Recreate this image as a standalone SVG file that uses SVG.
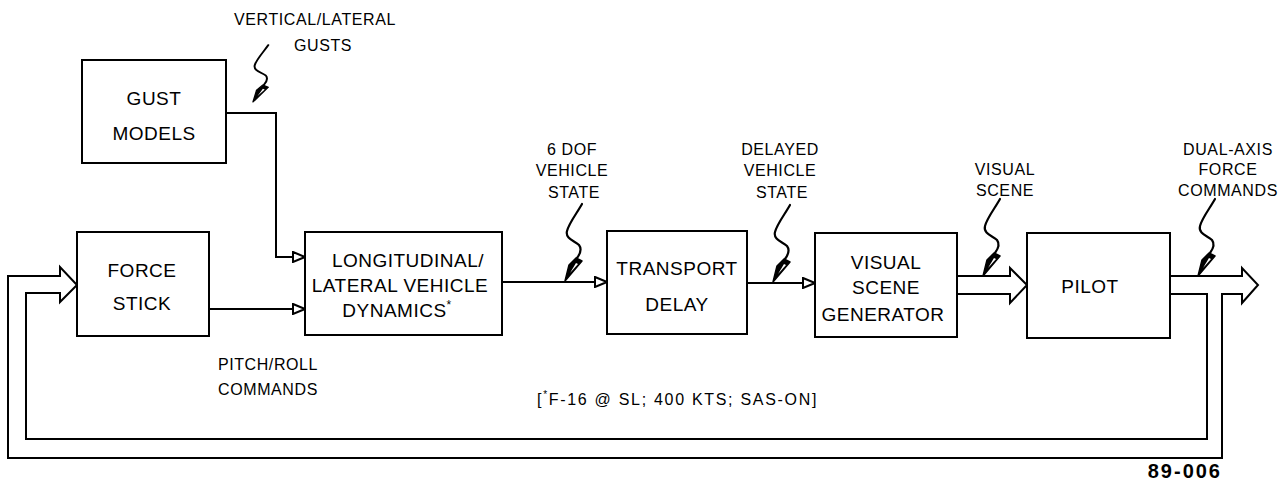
<svg xmlns="http://www.w3.org/2000/svg" width="1286" height="489" viewBox="0 0 1286 489">
<style>
.box{fill:#fff;stroke:#000;stroke-width:2}
.ln{fill:none;stroke:#000;stroke-width:2}
.t{font-family:"Liberation Sans",Arial,sans-serif;font-size:19px;fill:#000;text-anchor:middle;letter-spacing:0.5px}
.l{font-family:"Liberation Sans",Arial,sans-serif;font-size:16px;fill:#000;text-anchor:middle;letter-spacing:0.6px}
.ls{font-family:"Liberation Sans",Arial,sans-serif;font-size:16px;fill:#000;text-anchor:start;letter-spacing:1.7px}
.sq{fill:none;stroke:#000;stroke-width:2.2;stroke-linecap:round}
.dart{fill:#000;stroke:#000;stroke-width:1.5;stroke-linejoin:round}
</style>
<defs>
<marker id="oa" markerUnits="userSpaceOnUse" markerWidth="14" markerHeight="12" refX="13" refY="6" orient="auto">
<path d="M1,1 L13,6 L1,11 Z" fill="#fff" stroke="#000" stroke-width="2"/>
</marker>
<g id="squig">
<path class="sq" d="M17,-77 C12,-68 4,-58 2,-50 C0,-42 10,-40 14,-36 C17,-32 15,-27 12,-23"/>
<path class="dart" d="M0,0 L4,-16 L11,-23 L17,-20 Z"/>
<path d="M5,-8 L11,-18 L13,-17 Z" fill="#fff"/>
</g>
</defs>
<rect width="1286" height="489" fill="#fff"/>

<g id="connectors">
<path class="ln" d="M226,113 H276 V257 H305" marker-end="url(#oa)"/>
<path class="ln" d="M209,309 H305" marker-end="url(#oa)"/>
<path class="ln" d="M502,282 H607" marker-end="url(#oa)"/>
<path class="ln" d="M747,283 H815" marker-end="url(#oa)"/>
<path class="ln" d="M957,276 H1010 V268 L1027,285 L1010,303 V294 H957"/>
<path class="ln" d="M1170,276 H1242 V268 L1258,285 L1242,303 V294 H1222 V458 H8 V276 H60 V267 L77,285 L60,302 V293 H26 V439 H1207 V294 H1170"/>
</g>

<g id="gust-models">
<rect class="box" x="82" y="60" width="144" height="103"/>
<text class="t" x="154" y="105">GUST</text>
<text class="t" x="154" y="140">MODELS</text>
</g>
<g id="force-stick">
<rect class="box" x="77" y="232" width="132" height="104"/>
<text class="t" x="142" y="277">FORCE</text>
<text class="t" x="142" y="310">STICK</text>
</g>
<g id="dynamics">
<rect class="box" x="305" y="232" width="197" height="103"/>
<text class="t" x="408" y="267">LONGITUDINAL/</text>
<text class="t" x="400" y="292">LATERAL VEHICLE</text>
<text class="t" x="397" y="317">DYNAMICS<tspan font-size="12" dy="-8">*</tspan></text>
</g>
<g id="transport-delay">
<rect class="box" x="607" y="231" width="140" height="103"/>
<text class="t" x="677" y="275">TRANSPORT</text>
<text class="t" x="677" y="311">DELAY</text>
</g>
<g id="visual-scene-generator">
<rect class="box" x="815" y="233" width="142" height="104"/>
<text class="t" x="886" y="269">VISUAL</text>
<text class="t" x="886" y="294">SCENE</text>
<text class="t" x="883" y="321">GENERATOR</text>
</g>
<g id="pilot">
<rect class="box" x="1027" y="233" width="143" height="105"/>
<text class="t" x="1090" y="293">PILOT</text>
</g>

<g id="labels">
<text class="l" x="315" y="25">VERTICAL/LATERAL</text>
<text class="l" x="323" y="51">GUSTS</text>
<use href="#squig" transform="translate(253,102) scale(0.9,0.74)"/>
<text class="l" x="572" y="155">6 DOF</text>
<text class="l" x="572" y="176">VEHICLE</text>
<text class="l" x="574" y="198">STATE</text>
<use href="#squig" transform="translate(565,281)"/>
<text class="l" x="780" y="155">DELAYED</text>
<text class="l" x="780" y="176">VEHICLE</text>
<text class="l" x="782" y="198">STATE</text>
<use href="#squig" transform="translate(773,282)"/>
<text class="l" x="1005" y="175">VISUAL</text>
<text class="l" x="1005" y="196">SCENE</text>
<use href="#squig" transform="translate(983,276)"/>
<text class="l" x="1228" y="155">DUAL-AXIS</text>
<text class="l" x="1228" y="175">FORCE</text>
<text class="l" x="1228" y="196">COMMANDS</text>
<use href="#squig" transform="translate(1198,276)"/>
<text class="l" x="268" y="370">PITCH/ROLL</text>
<text class="l" x="268" y="395">COMMANDS</text>
<text class="ls" x="537" y="405">[<tspan font-size="10" dy="-7">*</tspan><tspan dy="7">F-16 @ SL; 400 KTS; SAS-ON]</tspan></text>
<text x="1222" y="478" font-family="'Liberation Sans',Arial,sans-serif" font-size="20" font-weight="bold" text-anchor="end" letter-spacing="2">89-006</text>
</g>
</svg>
